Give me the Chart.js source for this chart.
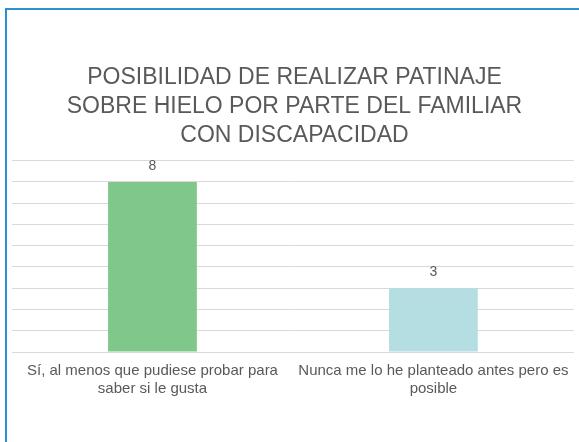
<!DOCTYPE html>
<html>
<head>
<meta charset="utf-8">
<script src="https://cdn.jsdelivr.net/npm/chart.js@4/dist/chart.umd.min.js"></script>
<style>
html,body{margin:0;padding:0;background:#fff;}
#wrap{position:relative;width:579px;height:442px;overflow:hidden;}
#frame{position:absolute;left:5px;top:8px;width:600px;height:500px;border-top:2px solid #2b8fd1;border-left:2px solid #2b8fd1;box-sizing:border-box;}
canvas{position:absolute;left:0;top:0;}
</style>
</head>
<body>
<div id="wrap">
<div id="frame"></div>
<canvas id="c" width="579" height="442"></canvas>
</div>
<script>
const categories = [
  ["Sí, al menos que pudiese probar para", "saber si le gusta"],
  ["Nunca me lo he planteado antes pero es", "posible"]
];
const values = [8, 3];
const barColors = ["#7fc78b", "#b5dee3"];
const titleLines = ["POSIBILIDAD DE REALIZAR PATINAJE", "SOBRE HIELO POR PARTE DEL FAMILIAR", "CON DISCAPACIDAD"];

const valueLabels = {
  id: 'valueLabels',
  afterDatasetsDraw(chart) {
    const ctx = chart.ctx;
    const meta = chart.getDatasetMeta(0);
    ctx.save();
    ctx.font = '14px "Liberation Sans", Arial, sans-serif';
    ctx.fillStyle = '#595959';
    ctx.textAlign = 'center';
    ctx.textBaseline = 'middle';
    meta.data.forEach((bar, i) => {
      ctx.fillText(String(values[i]), bar.x, bar.y - 16);
    });
    ctx.restore();
  }
};

new Chart(document.getElementById('c'), {
  type: 'bar',
  data: {
    labels: categories,
    datasets: [{
      data: values,
      backgroundColor: barColors,
      borderWidth: 0,
      barPercentage: 0.316,
      categoryPercentage: 1
    }]
  },
  options: {
    responsive: false,
    animation: false,
    devicePixelRatio: 1,
    layout: { padding: { left: 12, right: 2, top: 0, bottom: 34 } },
    plugins: {
      legend: { display: false },
      tooltip: { enabled: false },
      title: {
        display: true,
        text: titleLines,
        color: '#595959',
        font: { family: '"Liberation Sans", Arial, sans-serif', size: 23, weight: 'normal', lineHeight: 1.27 },
        padding: { top: 63, bottom: 10 }
      }
    },
    scales: {
      x: {
        grid: { display: false, drawTicks: false },
        border: { display: false },
        ticks: {
          color: '#595959',
          font: { family: '"Liberation Sans", Arial, sans-serif', size: 15, lineHeight: 1.2 },
          padding: 10,
          maxRotation: 0,
          autoSkip: false
        }
      },
      y: {
        min: 0,
        max: 9,
        grid: { color: '#d9d9d9', lineWidth: 1, drawTicks: false },
        border: { display: false },
        ticks: { display: false, stepSize: 1 }
      }
    }
  },
  plugins: [valueLabels]
});
</script>
</body>
</html>
